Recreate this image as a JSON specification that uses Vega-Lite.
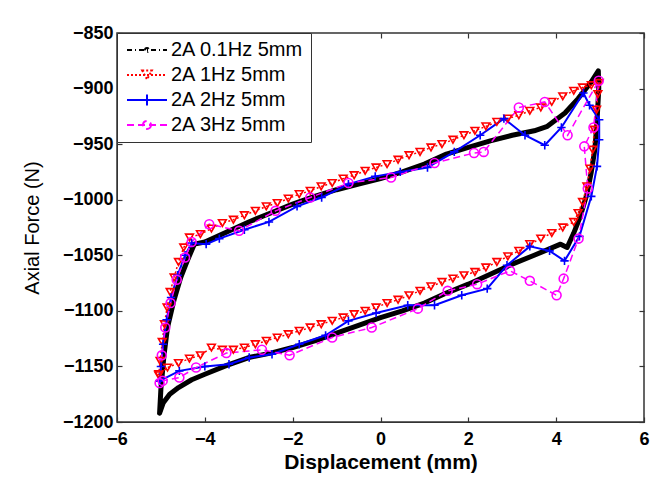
{
  "$schema": "https://vega.github.io/schema/vega-lite/v6.json",
  "width": 527,
  "height": 389,
  "autosize": {"type": "none"},
  "padding": {"left": 117, "top": 33, "right": 20, "bottom": 56},
  "background": "white",
  "config": {
    "view": {"stroke": "#333", "strokeWidth": 1.5},
    "axis": {
      "grid": false,
      "labelFont": "Liberation Sans",
      "labelFontWeight": "bold",
      "labelFontSize": 18,
      "labelColor": "black",
      "tickColor": "#333",
      "tickWidth": 1.2,
      "domainColor": "#333",
      "tickSize": -5,
      "titleFont": "Liberation Sans",
      "titleColor": "black"
    }
  },
  "resolve": {"axis": {"x": "independent", "y": "independent"}},
  "data": {"values": [
    {"s":"a","o":1,"x":-5.03,"y":-1192},{"s":"a","o":2,"x":-5.0,"y":-1170},{"s":"a","o":3,"x":-4.93,"y":-1140},{"s":"a","o":4,"x":-4.85,"y":-1115},{"s":"a","o":5,"x":-4.7,"y":-1090},{"s":"a","o":6,"x":-4.55,"y":-1070},{"s":"a","o":7,"x":-4.4,"y":-1055},{"s":"a","o":8,"x":-4.24,"y":-1040},{"s":"a","o":9,"x":-4.0,"y":-1038},{"s":"a","o":10,"x":-3.5,"y":-1029},{"s":"a","o":11,"x":-3.0,"y":-1020},{"s":"a","o":12,"x":-2.5,"y":-1012},{"s":"a","o":13,"x":-2.0,"y":-1004},{"s":"a","o":14,"x":-1.5,"y":-997},{"s":"a","o":15,"x":-1.0,"y":-991},{"s":"a","o":16,"x":-0.5,"y":-986},{"s":"a","o":17,"x":0,"y":-981},{"s":"a","o":18,"x":0.5,"y":-975},{"s":"a","o":19,"x":1.0,"y":-968},{"s":"a","o":20,"x":1.5,"y":-959},{"s":"a","o":21,"x":2.0,"y":-953},{"s":"a","o":22,"x":2.5,"y":-947},{"s":"a","o":23,"x":3.0,"y":-942},{"s":"a","o":24,"x":3.5,"y":-938},{"s":"a","o":25,"x":3.8,"y":-934},{"s":"a","o":26,"x":4.2,"y":-922},{"s":"a","o":27,"x":4.5,"y":-909},{"s":"a","o":28,"x":4.8,"y":-894},{"s":"a","o":29,"x":4.96,"y":-884},{"s":"a","o":30,"x":4.97,"y":-900},{"s":"a","o":31,"x":4.93,"y":-930},{"s":"a","o":32,"x":4.88,"y":-955},{"s":"a","o":33,"x":4.8,"y":-975},{"s":"a","o":34,"x":4.7,"y":-995},{"s":"a","o":35,"x":4.55,"y":-1015},{"s":"a","o":36,"x":4.4,"y":-1030},{"s":"a","o":37,"x":4.25,"y":-1043},{"s":"a","o":38,"x":4.1,"y":-1040},{"s":"a","o":39,"x":3.5,"y":-1050},{"s":"a","o":40,"x":3.0,"y":-1058},{"s":"a","o":41,"x":2.5,"y":-1067},{"s":"a","o":42,"x":2.0,"y":-1076},{"s":"a","o":43,"x":1.5,"y":-1084},{"s":"a","o":44,"x":1.0,"y":-1093},{"s":"a","o":45,"x":0.5,"y":-1100},{"s":"a","o":46,"x":0,"y":-1106},{"s":"a","o":47,"x":-0.5,"y":-1113},{"s":"a","o":48,"x":-1.0,"y":-1120},{"s":"a","o":49,"x":-1.5,"y":-1127},{"s":"a","o":50,"x":-2.0,"y":-1133},{"s":"a","o":51,"x":-2.5,"y":-1138},{"s":"a","o":52,"x":-3.0,"y":-1142},{"s":"a","o":53,"x":-3.5,"y":-1149},{"s":"a","o":54,"x":-4.0,"y":-1157},{"s":"a","o":55,"x":-4.3,"y":-1162},{"s":"a","o":56,"x":-4.6,"y":-1169},{"s":"a","o":57,"x":-4.8,"y":-1175},{"s":"a","o":58,"x":-4.95,"y":-1183},{"s":"a","o":59,"x":-5.03,"y":-1192},

    {"s":"b","o":1,"x":-5.05,"y":-1158},{"s":"b","o":2,"x":-5.02,"y":-1145},{"s":"b","o":3,"x":-4.97,"y":-1128},{"s":"b","o":4,"x":-4.92,"y":-1112},{"s":"b","o":5,"x":-4.86,"y":-1097},{"s":"b","o":6,"x":-4.79,"y":-1083},{"s":"b","o":7,"x":-4.7,"y":-1070},{"s":"b","o":8,"x":-4.6,"y":-1056},{"s":"b","o":9,"x":-4.48,"y":-1043},{"s":"b","o":10,"x":-4.35,"y":-1034},
    {"s":"b","o":11,"x":-4.1,"y":-1031},{"s":"b","o":12,"x":-3.85,"y":-1026},{"s":"b","o":13,"x":-3.6,"y":-1021},{"s":"b","o":14,"x":-3.35,"y":-1018},{"s":"b","o":15,"x":-3.1,"y":-1014},{"s":"b","o":16,"x":-2.85,"y":-1010},{"s":"b","o":17,"x":-2.6,"y":-1006},{"s":"b","o":18,"x":-2.35,"y":-1003},{"s":"b","o":19,"x":-2.1,"y":-999},{"s":"b","o":20,"x":-1.85,"y":-995},{"s":"b","o":21,"x":-1.6,"y":-992},{"s":"b","o":22,"x":-1.35,"y":-988},{"s":"b","o":23,"x":-1.1,"y":-985},{"s":"b","o":24,"x":-0.85,"y":-981},{"s":"b","o":25,"x":-0.6,"y":-978},{"s":"b","o":26,"x":-0.35,"y":-974},{"s":"b","o":27,"x":-0.1,"y":-971},{"s":"b","o":28,"x":0.15,"y":-968},{"s":"b","o":29,"x":0.4,"y":-964},{"s":"b","o":30,"x":0.65,"y":-960},{"s":"b","o":31,"x":0.9,"y":-957},{"s":"b","o":32,"x":1.15,"y":-953},{"s":"b","o":33,"x":1.4,"y":-950},{"s":"b","o":34,"x":1.65,"y":-946},{"s":"b","o":35,"x":1.9,"y":-942},{"s":"b","o":36,"x":2.15,"y":-938},{"s":"b","o":37,"x":2.4,"y":-934},{"s":"b","o":38,"x":2.65,"y":-930},{"s":"b","o":39,"x":2.9,"y":-927},{"s":"b","o":40,"x":3.15,"y":-924},{"s":"b","o":41,"x":3.4,"y":-920},{"s":"b","o":42,"x":3.65,"y":-917},{"s":"b","o":43,"x":3.9,"y":-912},{"s":"b","o":44,"x":4.15,"y":-907},{"s":"b","o":45,"x":4.4,"y":-902},{"s":"b","o":46,"x":4.6,"y":-899},{"s":"b","o":47,"x":4.8,"y":-897},{"s":"b","o":48,"x":4.98,"y":-895},
    {"s":"b","o":49,"x":4.95,"y":-905},{"s":"b","o":50,"x":4.92,"y":-919},{"s":"b","o":51,"x":4.87,"y":-937},{"s":"b","o":52,"x":4.83,"y":-955},{"s":"b","o":53,"x":4.77,"y":-972},{"s":"b","o":54,"x":4.7,"y":-988},{"s":"b","o":55,"x":4.6,"y":-1002},{"s":"b","o":56,"x":4.5,"y":-1012},{"s":"b","o":57,"x":4.4,"y":-1020},
    {"s":"b","o":58,"x":4.15,"y":-1025},{"s":"b","o":59,"x":3.9,"y":-1030},{"s":"b","o":60,"x":3.65,"y":-1035},{"s":"b","o":61,"x":3.4,"y":-1040},{"s":"b","o":62,"x":3.15,"y":-1046},{"s":"b","o":63,"x":2.9,"y":-1051},{"s":"b","o":64,"x":2.65,"y":-1056},{"s":"b","o":65,"x":2.4,"y":-1061},{"s":"b","o":66,"x":2.15,"y":-1065},{"s":"b","o":67,"x":1.9,"y":-1068},{"s":"b","o":68,"x":1.65,"y":-1071},{"s":"b","o":69,"x":1.4,"y":-1074},{"s":"b","o":70,"x":1.15,"y":-1078},{"s":"b","o":71,"x":0.9,"y":-1082},{"s":"b","o":72,"x":0.65,"y":-1086},{"s":"b","o":73,"x":0.4,"y":-1090},{"s":"b","o":74,"x":0.15,"y":-1093},{"s":"b","o":75,"x":-0.1,"y":-1097},{"s":"b","o":76,"x":-0.35,"y":-1100},{"s":"b","o":77,"x":-0.6,"y":-1103},{"s":"b","o":78,"x":-0.85,"y":-1106},{"s":"b","o":79,"x":-1.1,"y":-1109},{"s":"b","o":80,"x":-1.35,"y":-1112},{"s":"b","o":81,"x":-1.6,"y":-1115},{"s":"b","o":82,"x":-1.85,"y":-1118},{"s":"b","o":83,"x":-2.1,"y":-1121},{"s":"b","o":84,"x":-2.35,"y":-1124},{"s":"b","o":85,"x":-2.6,"y":-1127},{"s":"b","o":86,"x":-2.85,"y":-1130},{"s":"b","o":87,"x":-3.1,"y":-1133},{"s":"b","o":88,"x":-3.35,"y":-1135},{"s":"b","o":89,"x":-3.6,"y":-1135},{"s":"b","o":90,"x":-3.85,"y":-1133},{"s":"b","o":91,"x":-4.1,"y":-1140},{"s":"b","o":92,"x":-4.35,"y":-1143},{"s":"b","o":93,"x":-4.6,"y":-1147},{"s":"b","o":94,"x":-4.85,"y":-1151},{"s":"b","o":95,"x":-5.05,"y":-1157},

    {"s":"c","o":1,"x":-5.03,"y":-1163},{"s":"c","o":2,"x":-5.0,"y":-1150},{"s":"c","o":3,"x":-4.95,"y":-1130},{"s":"c","o":4,"x":-4.87,"y":-1108},{"s":"c","o":5,"x":-4.77,"y":-1088},{"s":"c","o":6,"x":-4.62,"y":-1068},{"s":"c","o":7,"x":-4.45,"y":-1050},{"s":"c","o":8,"x":-4.3,"y":-1039},{"s":"c","o":9,"x":-3.97,"y":-1040},{"s":"c","o":10,"x":-3.67,"y":-1035},{"s":"c","o":11,"x":-3.1,"y":-1027},{"s":"c","o":12,"x":-2.54,"y":-1020},{"s":"c","o":13,"x":-1.9,"y":-1006},{"s":"c","o":14,"x":-1.34,"y":-998},{"s":"c","o":15,"x":-0.73,"y":-986},{"s":"c","o":16,"x":-0.12,"y":-979},{"s":"c","o":17,"x":0.45,"y":-975},{"s":"c","o":18,"x":1.07,"y":-971},{"s":"c","o":19,"x":1.68,"y":-957},{"s":"c","o":20,"x":2.27,"y":-942},{"s":"c","o":21,"x":2.81,"y":-927},{"s":"c","o":22,"x":3.29,"y":-942},{"s":"c","o":23,"x":3.74,"y":-951},{"s":"c","o":24,"x":4.12,"y":-935},{"s":"c","o":25,"x":4.62,"y":-904},{"s":"c","o":26,"x":4.76,"y":-915},{"s":"c","o":27,"x":4.98,"y":-928},{"s":"c","o":28,"x":4.98,"y":-946},{"s":"c","o":29,"x":4.93,"y":-970},{"s":"c","o":30,"x":4.8,"y":-997},{"s":"c","o":31,"x":4.53,"y":-1033},{"s":"c","o":32,"x":4.19,"y":-1055},{"s":"c","o":33,"x":3.85,"y":-1046},{"s":"c","o":34,"x":3.4,"y":-1042},{"s":"c","o":35,"x":2.88,"y":-1059},{"s":"c","o":36,"x":2.43,"y":-1080},{"s":"c","o":37,"x":1.85,"y":-1086},{"s":"c","o":38,"x":1.23,"y":-1095},{"s":"c","o":39,"x":0.62,"y":-1095},{"s":"c","o":40,"x":-0.1,"y":-1102},{"s":"c","o":41,"x":-0.73,"y":-1109},{"s":"c","o":42,"x":-1.25,"y":-1122},{"s":"c","o":43,"x":-1.85,"y":-1130},{"s":"c","o":44,"x":-2.47,"y":-1139},{"s":"c","o":45,"x":-2.99,"y":-1142},{"s":"c","o":46,"x":-3.45,"y":-1148},{"s":"c","o":47,"x":-4.0,"y":-1150},{"s":"c","o":48,"x":-4.58,"y":-1154},{"s":"c","o":49,"x":-5.03,"y":-1163},

    {"s":"d","o":1,"x":-5.03,"y":-1165},{"s":"d","o":2,"x":-4.98,"y":-1140},{"s":"d","o":3,"x":-4.9,"y":-1115},{"s":"d","o":4,"x":-4.78,"y":-1093},{"s":"d","o":5,"x":-4.64,"y":-1072},{"s":"d","o":6,"x":-4.45,"y":-1052},{"s":"d","o":7,"x":-4.3,"y":-1038},{"s":"d","o":8,"x":-3.9,"y":-1022},{"s":"d","o":9,"x":-3.22,"y":-1028},{"s":"d","o":10,"x":-2.39,"y":-1010},{"s":"d","o":11,"x":-1.6,"y":-998},{"s":"d","o":12,"x":-0.73,"y":-985},{"s":"d","o":13,"x":0.24,"y":-980},{"s":"d","o":14,"x":1.23,"y":-967},{"s":"d","o":15,"x":2.13,"y":-958},{"s":"d","o":16,"x":2.35,"y":-957},{"s":"d","o":17,"x":3.15,"y":-917},{"s":"d","o":18,"x":3.74,"y":-912},{"s":"d","o":19,"x":4.26,"y":-942},{"s":"d","o":20,"x":4.97,"y":-893},{"s":"d","o":21,"x":4.85,"y":-935},{"s":"d","o":22,"x":4.64,"y":-952},{"s":"d","o":23,"x":4.72,"y":-990},{"s":"d","o":24,"x":4.51,"y":-1035},{"s":"d","o":25,"x":4.17,"y":-1071},{"s":"d","o":26,"x":4.01,"y":-1086},{"s":"d","o":27,"x":3.4,"y":-1073},{"s":"d","o":28,"x":2.95,"y":-1064},{"s":"d","o":29,"x":2.2,"y":-1076},{"s":"d","o":30,"x":1.53,"y":-1082},{"s":"d","o":31,"x":0.85,"y":-1098},{"s":"d","o":32,"x":-0.2,"y":-1115},{"s":"d","o":33,"x":-1.1,"y":-1124},{"s":"d","o":34,"x":-2.07,"y":-1140},{"s":"d","o":35,"x":-2.7,"y":-1135},{"s":"d","o":36,"x":-3.51,"y":-1138},{"s":"d","o":37,"x":-4.2,"y":-1151},{"s":"d","o":38,"x":-4.58,"y":-1160},{"s":"d","o":39,"x":-4.96,"y":-1163}
  ]},
  "layer": [
    {
      "transform": [{"filter": "datum.s === 'a'"}],
      "mark": {"type": "line", "strokeWidth": 5, "strokeJoin": "round", "strokeCap": "round"},
      "encoding": {
        "x": {"field": "x", "type": "quantitative", "scale": {"domain": [-6, 6], "nice": false, "zero": false},
              "axis": {"orient": "bottom", "values": [-6,-4,-2,0,2,4,6], "title": "Displacement (mm)", "titleFontSize": 21, "titleFontWeight": "bold", "labelPadding": 13, "titlePadding": 3, "labelFlush": false}},
        "y": {"field": "y", "type": "quantitative", "scale": {"domain": [-1200, -850], "nice": false, "zero": false},
              "axis": {"orient": "left", "format": "d", "values": [-1200,-1150,-1100,-1050,-1000,-950,-900,-850], "title": "Axial Force (N)", "titleFontSize": 20, "titleFontWeight": "normal", "labelPadding": 9, "titlePadding": 20}},
        "order": {"field": "o", "type": "quantitative"},
        "color": {"field": "s", "type": "nominal",
          "scale": {"domain": ["a","b","c","d"], "range": ["black","#ff0000","#0000ff","#ff00ff"]},
          "legend": {
            "title": null, "orient": "top-left", "offset": 0,
            "labelExpr": "{'a':'2A 0.1Hz 5mm','b':'2A 1Hz 5mm','c':'2A 2Hz 5mm','d':'2A 3Hz 5mm'}[datum.value]",
            "labelFont": "Liberation Sans", "labelFontSize": 20, "labelColor": "black",
            "strokeColor": "#333", "fillColor": "white", "padding": 7, "rowPadding": 5,
            "symbolSize": 64, "symbolStrokeWidth": 2, "labelOffset": 27,
            "encode": {"symbols": {"update": {
              "shape": {"signal": "datum.value==='a' ? 'M-1.75,0H8.25M2.75,0A0.5,0.5,0,1,1,3.75,0A0.5,0.5,0,1,1,2.75,0' : datum.value==='b' ? 'M-1.75,0H8.25M2.05,-1.1H4.45L3.25,1.1Z' : datum.value==='c' ? 'M-1.75,0H8.25M3.25,-1.4V1.4' : 'M-1.75,0H8.25M4.25,0A1,1,0,1,1,2.25,0A1,1,0,1,1,4.25,0'"},
              "strokeDash": {"signal": "datum.value==='a' ? [5,3,1,3] : datum.value==='b' ? [2,2] : datum.value==='d' ? [7,4] : []"},
              "stroke": {"signal": "datum.value==='a' ? '#888888' : scale('color', datum.value)"},
              "strokeWidth": {"value": 2},
              "fill": {"value": "transparent"}
            }}}
          }}
      }
    },
    {
      "transform": [{"filter": "datum.s === 'b'"}],
      "mark": {"type": "line", "strokeWidth": 1.5, "strokeDash": [2, 2.5]},
      "encoding": {
        "x": {"field": "x", "type": "quantitative", "axis": null},
        "y": {"field": "y", "type": "quantitative", "axis": null},
        "order": {"field": "o", "type": "quantitative"},
        "color": {"field": "s", "type": "nominal"}
      }
    },
    {
      "transform": [{"filter": "datum.s === 'c'"}],
      "mark": {"type": "line", "strokeWidth": 2},
      "encoding": {
        "x": {"field": "x", "type": "quantitative", "axis": null},
        "y": {"field": "y", "type": "quantitative", "axis": null},
        "order": {"field": "o", "type": "quantitative"},
        "color": {"field": "s", "type": "nominal"}
      }
    },
    {
      "transform": [{"filter": "datum.s === 'd'"}],
      "mark": {"type": "line", "strokeWidth": 1.5, "strokeDash": [7, 4]},
      "encoding": {
        "x": {"field": "x", "type": "quantitative", "axis": null},
        "y": {"field": "y", "type": "quantitative", "axis": null},
        "order": {"field": "o", "type": "quantitative"},
        "color": {"field": "s", "type": "nominal"}
      }
    },
    {
      "transform": [{"filter": "datum.s !== 'a'"}],
      "mark": {"type": "point", "filled": false, "strokeWidth": 1.6, "opacity": 1},
      "encoding": {
        "x": {"field": "x", "type": "quantitative", "axis": {"orient": "top", "values": [-6,-4,-2,0,2,4,6], "labels": false, "title": null, "domain": false}},
        "y": {"field": "y", "type": "quantitative", "axis": {"orient": "right", "values": [-1200,-1150,-1100,-1050,-1000,-950,-900,-850], "labels": false, "title": null, "domain": false}},
        "color": {"field": "s", "type": "nominal"},
        "shape": {"field": "s", "type": "nominal", "scale": {"domain": ["b","c","d"], "range": ["triangle-down","M-1,0H1M0,-1V1","circle"]}, "legend": null},
        "size": {"field": "s", "type": "nominal", "scale": {"domain": ["b","c","d"], "range": [60,80,50]}, "legend": null}
      }
    }
  ]
}
